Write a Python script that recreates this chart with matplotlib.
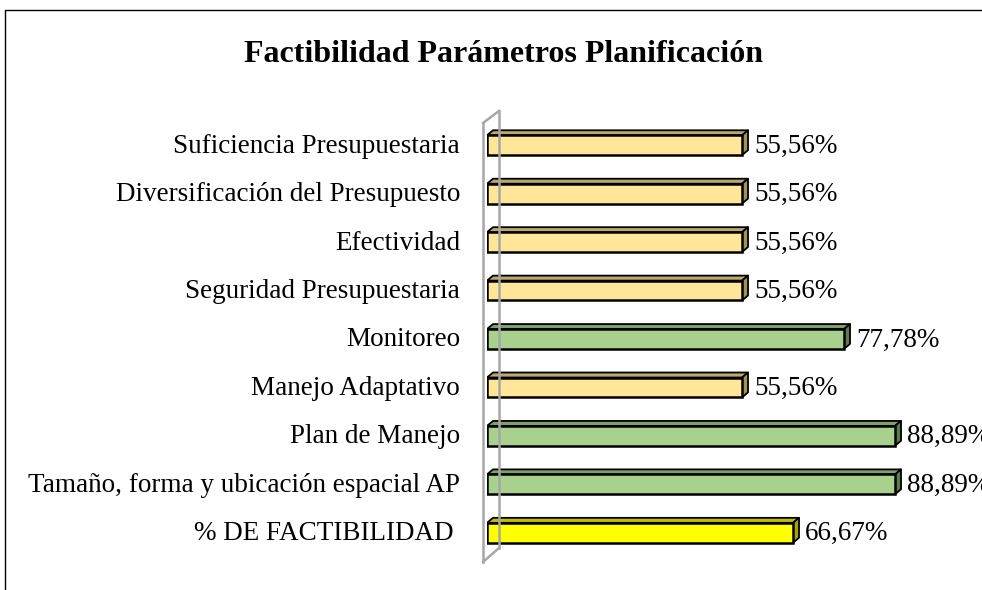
import matplotlib.pyplot as plt
from matplotlib.patches import Polygon, Rectangle
from matplotlib.lines import Line2D

categorias = ["Suficiencia Presupuestaria", "Diversificación del Presupuesto", "Efectividad",
              "Seguridad Presupuestaria", "Monitoreo", "Manejo Adaptativo", "Plan de Manejo",
              "Tamaño, forma y ubicación espacial AP", "% DE FACTIBILIDAD "]
valores = [55.56, 55.56, 55.56, 55.56, 77.78, 55.56, 88.89, 88.89, 66.67]
etiquetas = ["55,56%", "55,56%", "55,56%", "55,56%", "77,78%", "55,56%", "88,89%", "88,89%", "66,67%"]

# front, top, side colours
beige = ("#FFE699", "#BBA86C", "#A39258")
verde = ("#A9D18E", "#809F6B", "#5F7A4D")
amar = ("#FFFF00", "#BFBF00", "#A3A300")
colores = [beige, beige, beige, beige, verde, beige, verde, verde, amar]

plt.rcParams["font.family"] = ["Liberation Serif", "DejaVu Serif"]

W, H = 982, 590
fig = plt.figure(figsize=(W / 100, H / 100), dpi=100)
ax_left, ax_w = 487, 459
ax_top, ax_bot = 121, 557
ax = fig.add_axes([ax_left / W, (H - ax_bot) / H, ax_w / W, (ax_bot - ax_top) / H])
ax.set_xlim(0, 100)
n = len(categorias)
ax.set_ylim(n - 0.5, -0.5)
ax.axis("off")

px_x = 100 / ax_w
px_y = n / (ax_bot - ax_top)
dx, dy = 6 * px_x, 5 * px_y
h = 0.41

for i, (v, c, t) in enumerate(zip(valores, colores, etiquetas)):
    y0, y1 = i + h / 2, i - h / 2
    ax.add_patch(Polygon([(0, y1), (dx, y1 - dy), (v + dx, y1 - dy), (v, y1)],
                         closed=True, fc=c[1], ec="black", lw=1.3, joinstyle="round"))
    ax.add_patch(Polygon([(v, y1), (v + dx, y1 - dy), (v + dx, y0 - dy), (v, y0)],
                         closed=True, fc=c[2], ec="black", lw=1.3, joinstyle="round"))
    ax.add_patch(Rectangle((0, y1), v, h, fc=c[0], ec="black", lw=1.8))
    ax.text(v + dx + 6 * px_x, i + 0.02, t, ha="left", va="center", fontsize=19.5,
            clip_on=False)
    ax.text(-27 * px_x, i + 0.02, categorias[i], ha="right", va="center", fontsize=19.5)

# 3D wall
g = "#A6A6A6"
for xs, ys in [([483, 483], [123, 562]), ([499, 499], [111, 548]),
               ([483, 499], [123, 111]), ([483, 499], [562, 548])]:
    fig.add_artist(Line2D([x / W for x in xs], [(H - y) / H for y in ys], color=g, lw=1.8))

# chart border
fig.add_artist(Line2D([5 / W, 5 / W, 1], [0, (H - 10) / H, (H - 10) / H], color="black", lw=1))

fig.text(503 / W, (H - 55) / H, "Factibilidad Parámetros Planificación", ha="center", va="center",
         fontsize=23, fontweight="bold")

fig.savefig("out.png", dpi=100)
